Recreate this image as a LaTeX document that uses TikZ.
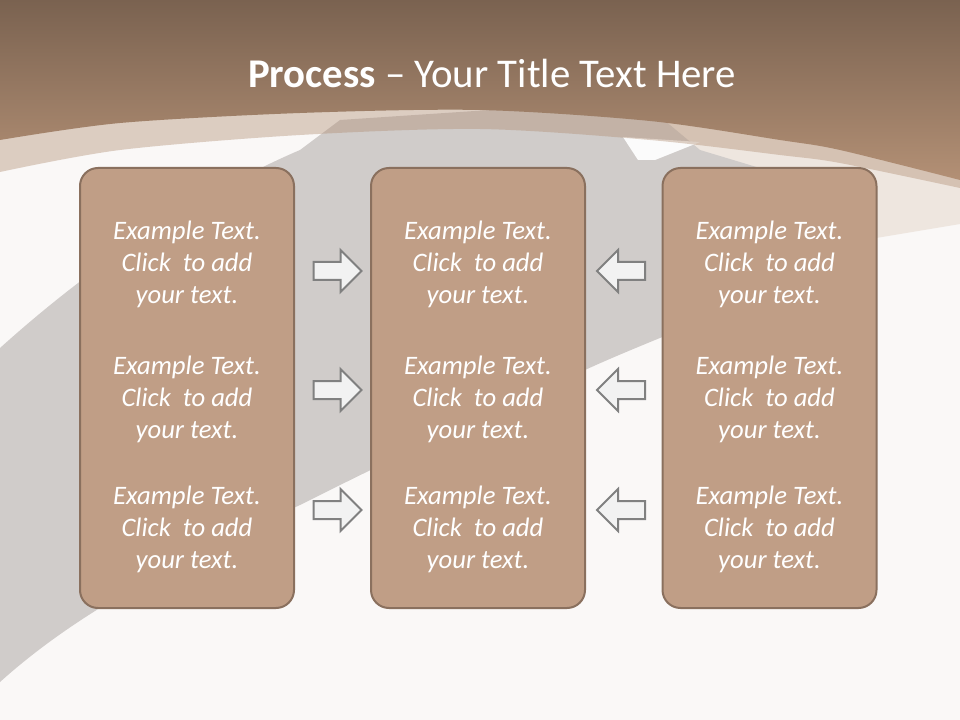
\documentclass[tikz,border=0pt]{standalone}
\usepackage{fontspec}
\setmainfont{Carlito}
\usetikzlibrary{calc}
\definecolor{bgc}{HTML}{FAF8F7}
\definecolor{greyc}{HTML}{D0CCCA}
\definecolor{beigec}{HTML}{EEE6DF}
\definecolor{brtop}{HTML}{7A6250}
\definecolor{brbot}{HTML}{B39075}
\definecolor{bandc}{HTML}{B08D72}
\definecolor{boxfill}{HTML}{C09E86}
\definecolor{boxline}{HTML}{8A705E}
\definecolor{arrfill}{HTML}{F2F2F2}
\definecolor{arrline}{HTML}{808080}
\tikzset{
  stepbox/.style={draw=boxline, fill=boxfill, line width=1.5pt, rounded corners=13.5pt,
    minimum width=160.5pt, minimum height=330pt, inner sep=0pt},
  txt/.style={text=white, align=center, inner sep=0pt,
    font=\fontsize{20}{24}\selectfont\itshape},
  titletxt/.style={text=white, inner sep=0pt, font=\fontsize{30.6}{36}\selectfont},
  arrowbox/.style={draw=arrline, fill=arrfill, line width=1.5pt, line join=miter},
  rarrow/.pic={\draw[arrowbox] (-24,-9) -- (3,-9) -- (3,-21) -- (24,0) -- (3,21) -- (3,9) -- (-24,9) -- cycle;},
  larrow/.pic={\draw[arrowbox] (24,-9) -- (-3,-9) -- (-3,-21) -- (-24,0) -- (-3,21) -- (-3,9) -- (24,9) -- cycle;}
}
\newcommand{\mysteptext}[3]{%
  \node[txt] (#1) at (#2,#3) {Example Text.\\Click~ to add\\your text.};
}
\begin{document}
\begin{tikzpicture}[x=0.75pt,y=-0.75pt]
\useasboundingbox (0,0) rectangle (960,720);
% background
\fill[bgc] (0,0) rectangle (960,720);
% beige end of stroke on the right
\fill[beigec] (640,100) -- (960,150) -- (960,224) -- (876,238) -- (700,200) -- cycle;
% grey brush stroke
\fill[greyc] (0,348) .. controls (120,240) and (230,180) .. (300,150) -- (340,120) -- (640,100)
  -- (700,150) -- (866,200) -- (866,250) .. controls (760,300) and (650,340) .. (585,370)
  .. controls (450,430) and (350,480) .. (300,505) .. controls (180,560) and (80,610) .. (0,682) -- cycle;
% light triangle
\fill[white!92!greyc] (623,137) -- (700,142) -- (655,160) -- (638,160) -- cycle;
% translucent band
\fill[bandc, opacity=0.4] (0,100) -- (0,172) -- plot[smooth] coordinates {(0,172) (120,150) (300,135) (480,129) (650,140) (780,155) (840,163) (960,188)} -- (960,100) -- cycle;
% brown top
\shade[top color=brtop, bottom color=brbot] (0,0) -- (0,140) -- plot[smooth] coordinates {(0,140) (120,123) (300,113) (480,110) (650,121) (780,140) (840,150) (960,180)} -- (960,0) -- cycle;
% boxes
\node[stepbox] (b1) at (187,388) {};
\node[stepbox] (b2) at (478,388) {};
\node[stepbox] (b3) at (769.5,388) {};
% texts
\mysteptext{t11}{187}{264}
\mysteptext{t12}{187}{399}
\mysteptext{t13}{187}{529}
\mysteptext{t21}{478}{264}
\mysteptext{t22}{478}{399}
\mysteptext{t23}{478}{529}
\mysteptext{t31}{769.5}{264}
\mysteptext{t32}{769.5}{399}
\mysteptext{t33}{769.5}{529}
% arrows
\pic (ra1) at (337.5,271) {rarrow};
\pic (ra2) at (337.5,390) {rarrow};
\pic (ra3) at (337.5,510) {rarrow};
\pic (la1) at (621,271) {larrow};
\pic (la2) at (621,390) {larrow};
\pic (la3) at (621,510) {larrow};
% title
\node[titletxt, anchor=base] (title) at (492,88) {\textbf{Process} – Your Title Text Here};
\end{tikzpicture}
\end{document}
